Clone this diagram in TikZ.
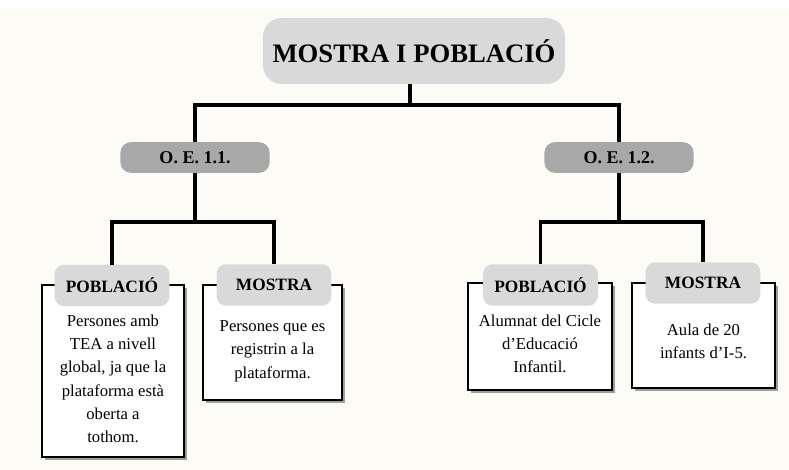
\documentclass[tikz,border=0pt]{standalone}
\usepackage{fontspec}
\setmainfont{Liberation Serif}
\usepackage{tikz}
\usetikzlibrary{positioning,shadows}
\definecolor{fons}{HTML}{FCFBF6}
\definecolor{grisclar}{HTML}{D9D9D9}
\definecolor{grisfosc}{HTML}{A8A8A8}
\definecolor{ombra}{HTML}{7F7F7F}
\newcommand{\caixa}[4]{\node[marc,minimum width=#3,minimum height=#4] (#1) at #2 {}}
\newcommand{\etiqueta}[3]{\node[etiq] (#1) at #2 {#3}}

\begin{document}
\begin{tikzpicture}[x=0.75pt,y=-0.75pt,
    arbre/.style={line width=2.5pt},
    marc/.style={draw,line width=1.6pt,fill=white,drop shadow={shadow xshift=2.2pt,shadow yshift=-2.2pt,fill=ombra,opacity=0.75}},
    titol/.style={fill=grisclar,rounded corners=14pt,minimum width=226.5pt,minimum height=49.5pt,inner sep=0pt,font=\bfseries\fontsize{20}{24}\selectfont},
    objectiu/.style={fill=grisfosc,rounded corners=8pt,minimum width=112pt,minimum height=23pt,inner sep=0pt,font=\bfseries\fontsize{13.5}{15}\selectfont},
    etiq/.style={fill=grisclar,rounded corners=7pt,minimum width=86pt,minimum height=31pt,inner sep=0pt,font=\bfseries\fontsize{13}{15}\selectfont},
    cos/.style={align=center,font=\fontsize{12.5}{17.5}\selectfont}]
    \useasboundingbox (0,0) rectangle (789,470);
    \fill[fons] (0,0) rectangle (789,470);
    \fill[white] (0,0) rectangle (789,9);
    % titol i objectius
    \node[titol] (titol) at (414,51) {MOSTRA I POBLACIÓ};
    \node[objectiu] (oe1) at (195,157.5) {O. E. 1.1.};
    \node[objectiu] (oe2) at (619,157.5) {O. E. 1.2.};
    % caixes
    \caixa{mp1}{(113,371)}{106.5pt}{129pt};
    \caixa{mm1}{(272.5,342.5)}{104.25pt}{86.25pt};
    \caixa{mp2}{(540,336.5)}{108pt}{80.25pt};
    \caixa{mm2}{(703.5,335.5)}{107.25pt}{78.75pt};
    \node[cos] (tp1) at (113,379) {Persones amb\\TEA a nivell\\global, ja que la\\plataforma està\\oberta a\\tothom.};
    \node[cos] (tm1) at (272.5,351) {Persones que es\\registrin a la\\plataforma.};
    \node[cos] (tp2) at (540,344) {Alumnat del Cicle\\d’Educació\\Infantil.};
    \node[cos] (tm2) at (703.5,341.5) {Aula de 20\\infants d’I-5.};
    \etiqueta{ep1}{(112,285.5)}{POBLACIÓ};
    \etiqueta{em1}{(274,285)}{MOSTRA};
    \etiqueta{ep2}{(540.5,285)}{POBLACIÓ};
    \etiqueta{em2}{(703,283)}{MOSTRA};
    % branques
    \coordinate (bar1) at (410,105);
    \draw[arbre] (titol.south -| bar1) -- (bar1);
    \draw[arbre] (oe1.north) |- (bar1) -| (oe2.north);
    \coordinate (bar2) at (195,222);
    \draw[arbre] (oe1.south) -- (bar2);
    \draw[arbre] (ep1.north) |- (bar2) -| (em1.north);
    \coordinate (bar3) at (619,222);
    \draw[arbre] (oe2.south) -- (bar3);
    \draw[arbre] (ep2.north) |- (bar3) -| (em2.north);
\end{tikzpicture}
\end{document}
